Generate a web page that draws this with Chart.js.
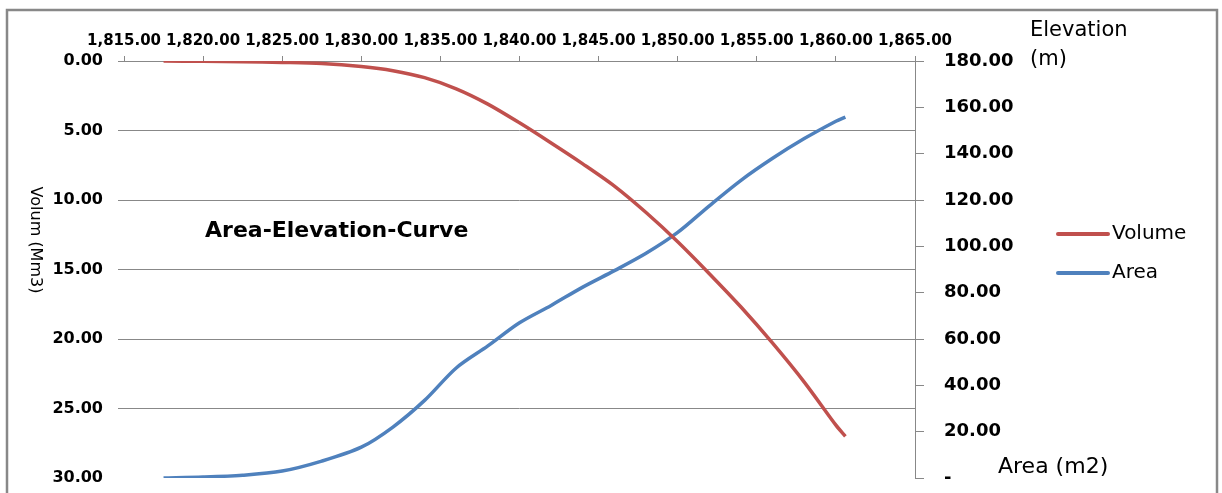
<!DOCTYPE html>
<html>
<head>
<meta charset="utf-8">
<script src="https://cdn.jsdelivr.net/npm/chart.js@4.4.1/dist/chart.umd.min.js"></script>
<style>
    html, body { margin: 0; padding: 0; background: #fff; }
    #wrap { width: 1222px; height: 493px; }
</style>
</head>
<body>
<div id="wrap"><canvas id="myChart" width="1222" height="493"></canvas></div>
<script>
// values
const elevation = [1817.5, 1820, 1822.5, 1825, 1827.5, 1830, 1832, 1834, 1836, 1838, 1840,
    1842, 1844, 1846, 1848, 1850, 1852, 1854, 1856, 1858, 1860, 1860.6];
const volume = [0, 0.02, 0.05, 0.1, 0.18, 0.4, 0.7, 1.2, 2.0, 3.1, 4.45,
    5.9, 7.4, 9.0, 10.9, 13.0, 15.3, 17.7, 20.3, 23.1, 26.2, 27.0];
const area = [0, 0.4, 1.2, 3.0, 7.3, 13.3, 22, 33.5, 47.5, 57, 67,
    74.5, 82.4, 89.5, 97, 106, 117.5, 128.5, 138, 146.5, 154, 155.8];
const seriesNames = ["Volume", "Area"];
const seriesColors = ["#C0504D", "#4F81BD"];

const gray = "#888888";
Chart.defaults.font.family = "'DejaVu Sans', Verdana, sans-serif";
Chart.defaults.color = "#000";

const toPoints = (vals) => elevation.map((e, i) => ({ x: e, y: vals[i] }));

// no overflow padding from the vertical axes, so the plot keeps its size
const fixY = (w) => (s) => {
    s.width = w;
    s.paddingTop = 0;
    s.paddingBottom = 0;
};

// frame, titles and legend drawn on top
const extras = {
    id: "extras",
    afterDraw(chart) {
        const ctx = chart.ctx;
        ctx.save();
        ctx.strokeStyle = gray;
        ctx.lineWidth = 2.5;
        ctx.strokeRect(7, 10, 1210, 495);

        ctx.fillStyle = "#000";
        ctx.textBaseline = "middle";
        ctx.textAlign = "left";
        ctx.font = "bold 22px 'DejaVu Sans'";
        ctx.fillText("Area-Elevation-Curve", 205, 231);

        ctx.font = "21px 'DejaVu Sans'";
        ctx.fillText("Elevation", 1030, 31);
        ctx.fillText("(m)", 1030, 60);
        ctx.font = "22px 'DejaVu Sans'";
        ctx.fillText("Area (m2)", 998, 467);

        ctx.save();
        ctx.translate(35, 240);
        ctx.rotate(Math.PI / 2);
        ctx.textAlign = "center";
        ctx.font = "16px 'DejaVu Sans'";
        ctx.fillText("Volum (Mm3)", 0, 0);
        ctx.restore();

        // legend
        ctx.font = "20px 'DejaVu Sans'";
        ctx.lineCap = "round";
        chart.data.datasets.forEach((ds, i) => {
            const y = 234 + i * 39;
            ctx.strokeStyle = ds.borderColor;
            ctx.lineWidth = 4;
            ctx.beginPath();
            ctx.moveTo(1058, y);
            ctx.lineTo(1108, y);
            ctx.stroke();
            ctx.fillText(ds.label, 1112, y);
        });
        ctx.restore();
    },
};

const canvas = document.getElementById("myChart");
const myChart = new Chart(canvas.getContext("2d"), {
    type: "line",
    data: {
        datasets: [
            {
                label: seriesNames[0],
                data: toPoints(volume),
                borderColor: seriesColors[0],
                backgroundColor: seriesColors[0],
                borderWidth: 3.5,
                pointRadius: 0,
                tension: 0.3,
                yAxisID: "y",
            },
            {
                label: seriesNames[1],
                data: toPoints(area),
                borderColor: seriesColors[1],
                backgroundColor: seriesColors[1],
                borderWidth: 3.5,
                pointRadius: 0,
                tension: 0.3,
                yAxisID: "y1",
            },
        ],
    },
    options: {
        responsive: false,
        animation: false,
        layout: { padding: { left: 0, right: 0, top: 0, bottom: 15 } },
        plugins: {
            legend: { display: false },
            tooltip: { enabled: false },
        },
        scales: {
            x: {
                type: "linear",
                position: "top",
                min: 1815,
                max: 1865,
                afterFit: (s) => { s.height = 61; },
                grid: { drawOnChartArea: false, color: gray, tickLength: 5 },
                border: { color: gray },
                ticks: {
                    stepSize: 5,
                    autoSkip: false,
                    maxRotation: 0,
                    padding: 6,
                    font: { size: 15, weight: "bold" },
                    callback: (v) => v.toLocaleString("en-US", { minimumFractionDigits: 2, maximumFractionDigits: 2 }),
                },
            },
            y: {
                position: "left",
                reverse: true,
                min: 0,
                max: 30,
                afterFit: fixY(124),
                grid: {
                    color: (c) => (c.tick && c.tick.value === 30 ? "rgba(0,0,0,0)" : gray),
                    tickLength: 6,
                },
                border: { display: false },
                ticks: {
                    stepSize: 5,
                    padding: 15,
                    font: { size: 16, weight: "bold" },
                    callback: (v) => v.toFixed(2),
                },
            },
            y1: {
                position: "right",
                min: 0,
                max: 180,
                afterFit: fixY(307),
                grid: { drawOnChartArea: false, color: gray, tickLength: 9 },
                border: { color: gray },
                ticks: {
                    stepSize: 20,
                    padding: 20,
                    font: { size: 18, weight: "bold" },
                    callback: (v) => (v === 0 ? "-" : v.toFixed(2)),
                },
            },
        },
    },
    plugins: [extras],
});
</script>
</body>
</html>
